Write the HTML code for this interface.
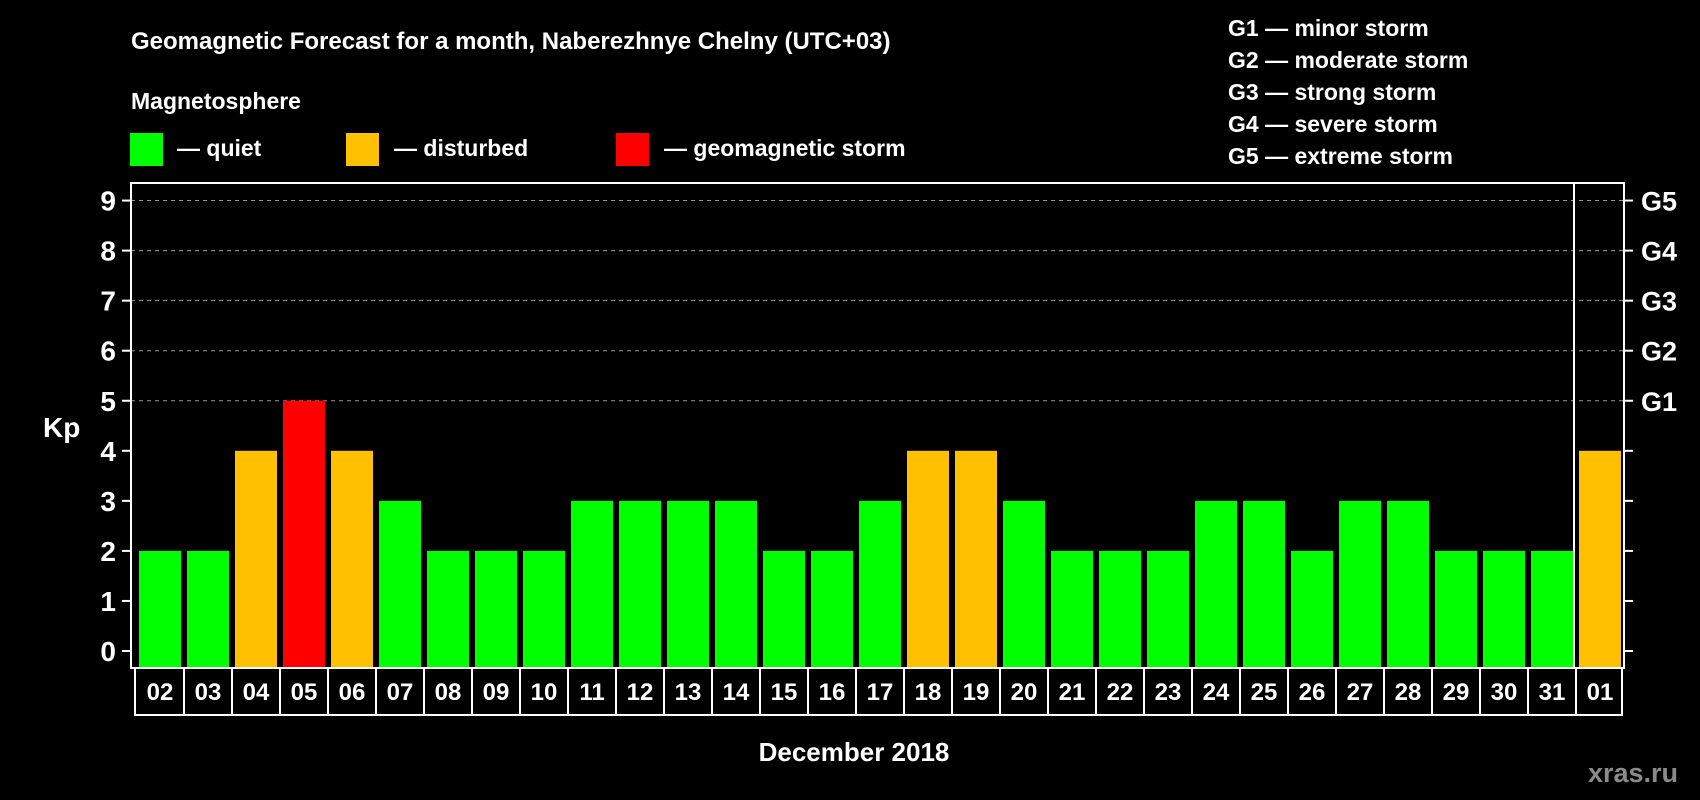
<!DOCTYPE html>
<html><head><meta charset="utf-8"><style>
html,body{margin:0;padding:0;background:#000;}
svg{display:block;font-family:"Liberation Sans",Arial,sans-serif;font-weight:bold;}
</style></head><body>
<svg id="chart" width="1700" height="800" viewBox="0 0 1700 800">
<rect x="0" y="0" width="1700" height="800" fill="#000"/>
<text x="131" y="49" fill="#fff" font-size="24">Geomagnetic Forecast for a month, Naberezhnye Chelny (UTC+03)</text>
<text x="131" y="109" fill="#fff" font-size="23">Magnetosphere</text>
<g><rect x="130" y="133" width="33" height="33" fill="#00ff00"/><text x="177" y="156" fill="#fff" font-size="23">— quiet</text></g>
<g><rect x="346" y="133" width="33" height="33" fill="#ffc000"/><text x="394" y="156" fill="#fff" font-size="23">— disturbed</text></g>
<g><rect x="616" y="133" width="33" height="33" fill="#ff0000"/><text x="664" y="156" fill="#fff" font-size="23">— geomagnetic storm</text></g>
<g fill="#fff" font-size="23">
<text x="1228" y="36">G1 — minor storm</text>
<text x="1228" y="68">G2 — moderate storm</text>
<text x="1228" y="100">G3 — strong storm</text>
<text x="1228" y="132">G4 — severe storm</text>
<text x="1228" y="164">G5 — extreme storm</text>
</g>
<g id="grid"></g>
<g id="bars"></g>
<g id="axes"></g>
<g id="xlabels"></g>
<text x="43" y="437" fill="#fff" font-size="28">Kp</text>
<text x="854" y="761" fill="#fff" font-size="26" text-anchor="middle">December 2018</text>
<text x="1678" y="782" fill="#8a8a8a" font-size="27" text-anchor="end">xras.ru</text>
</svg>
<script>
const days = ["02","03","04","05","06","07","08","09","10","11","12","13","14","15","16","17","18","19","20","21","22","23","24","25","26","27","28","29","30","31","01"];
const kpValues = [2,2,4,5,4,3,2,2,2,3,3,3,3,2,2,3,4,4,3,2,2,2,3,3,2,3,3,2,2,2,4];
const yTicks = [0,1,2,3,4,5,6,7,8,9];
const gLabels = ["G1","G2","G3","G4","G5"];
const NS="http://www.w3.org/2000/svg";
const plotL=131, plotR=1624, plotT=183, plotB=668, divX=1574;
const firstX=139, slot=48, barW=42;
function y(v){return 651 - v*50.05;}
function x(i){return firstX + i*slot;}
function mk(tag,attrs,parent){const e=document.createElementNS(NS,tag);for(const k in attrs)e.setAttribute(k,attrs[k]);parent.appendChild(e);return e;}
const grid=document.getElementById('grid'),bars=document.getElementById('bars'),axes=document.getElementById('axes'),xl=document.getElementById('xlabels');
yTicks.forEach(v=>{
  if(v>=5){const l=mk('line',{x1:plotL,x2:plotR,y1:y(v),y2:y(v),stroke:'#999','stroke-width':1,'stroke-dasharray':'4,4'},grid);
  
  }
  const t1=mk('line',{x1:plotL-9,x2:plotL,y1:y(v),y2:y(v),stroke:'#fff','stroke-width':2},axes);
  
  
  const t2=mk('line',{x1:plotR,x2:plotR+9,y1:y(v),y2:y(v),stroke:'#fff','stroke-width':2},axes);
  
  
  const tx=mk('text',{x:116,y:y(v)+10,fill:'#fff','font-size':28,'text-anchor':'end'},axes);
  tx.textContent=v;
  
  
});
gLabels.forEach((g,i)=>{
  const tx=mk('text',{x:1641,y:y(5+i)+10,fill:'#fff','font-size':27},axes);
  tx.textContent=g;
  
  
});
kpValues.forEach((v,i)=>{
  const c=v>=5?'#ff0000':(v>=4?'#ffc000':'#00ff00');
  const r=mk('rect',{x:x(i),y:y(v),width:barW,height:plotB-y(v)-1,fill:c},bars);
  
  
});
const fr=mk('rect',{x:plotL,y:plotT,width:plotR-plotL,height:plotB-plotT,fill:'none',stroke:'#fff','stroke-width':2},axes);


const dv=mk('line',{x1:divX,x2:divX,y1:plotT,y2:plotB,stroke:'#fff','stroke-width':2},axes);


const bx=mk('rect',{x:135,y:plotB,width:1622-135,height:715-plotB,fill:'none',stroke:'#fff','stroke-width':2},xl);


days.forEach((d,i)=>{
  if(i>0){const l=mk('line',{x1:x(i)-3,x2:x(i)-3,y1:plotB,y2:715,stroke:'#fff','stroke-width':2},xl);
  
  }
  const t=mk('text',{x:x(i)+barW/2,y:700,fill:'#fff','font-size':24,'text-anchor':'middle'},xl);
  t.textContent=d;
  
  
});
</script>
</body></html>
